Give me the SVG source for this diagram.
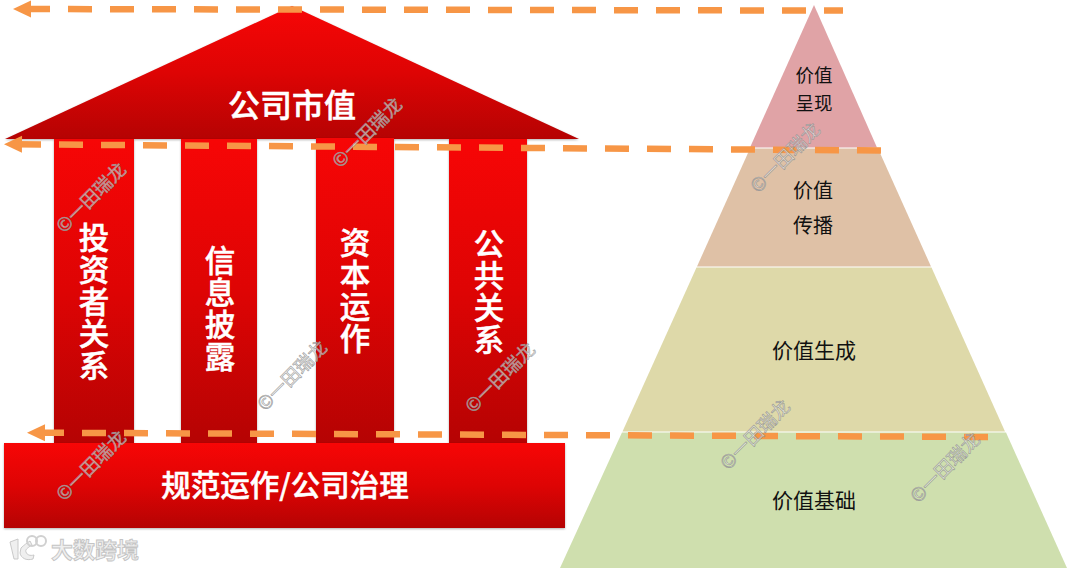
<svg xmlns="http://www.w3.org/2000/svg" width="1068" height="569" viewBox="0 0 1068 569">
<style>
text{font-family:"Noto Sans CJK SC","Liberation Sans",sans-serif;text-anchor:middle}
.w{fill:#fff;font-weight:500;stroke:#fff;stroke-width:.5}
.k{fill:#111}
.red{fill:url(#rg);filter:url(#sh)}
.dash{fill:none;stroke:#f79646;stroke-width:6.500;stroke-dasharray:24 18;marker-start:url(#ah)}
.wm{font-size:18.500px;fill:#fff;fill-opacity:.6;stroke:#8a8a8a;stroke-opacity:.8;stroke-width:.7;text-anchor:start}
.lg{fill:#efefef;stroke:#c4c4c4;stroke-width:.9}
</style>
<defs>
<linearGradient id="rg" x1="0" y1="0" x2="0" y2="1"><stop offset="0" stop-color="#f70606"/><stop offset=".5" stop-color="#de0404"/><stop offset="1" stop-color="#b50303"/></linearGradient>
<filter id="sh" x="-5%" y="-5%" width="110%" height="110%" color-interpolation-filters="sRGB"><feDropShadow dx="0" dy="1" stdDeviation="1" flood-color="#000" flood-opacity=".3"/></filter>
<marker id="ah" markerUnits="userSpaceOnUse" markerWidth="40" markerHeight="40" viewBox="-20 -20 40 40" refX="0" refY="0" orient="auto" overflow="visible"><path d="M-13 0L5-8.500V8.500Z" fill="#f79646"/></marker>
</defs>
<g id="roof"><path class="red" d="M292 6L579 139H5Z"/><text class="w" x="292" y="117" font-size="32">公司市值</text></g>
<g id="col1"><rect class="red" x="54" y="139" width="80" height="304"/><text class="w" font-size="30.500" x="94"><tspan x="94" y="249">投</tspan><tspan x="94" y="281">资</tspan><tspan x="94" y="313">者</tspan><tspan x="94" y="345">关</tspan><tspan x="94" y="377">系</tspan></text></g>
<g id="col2"><rect class="red" x="181" y="139" width="76" height="304"/><text class="w" font-size="30.500" x="220"><tspan x="220" y="272">信</tspan><tspan x="220" y="304">息</tspan><tspan x="220" y="336">披</tspan><tspan x="220" y="368">露</tspan></text></g>
<g id="col3"><rect class="red" x="316" y="138" width="78" height="305"/><text class="w" font-size="30.500" x="355"><tspan x="355" y="254">资</tspan><tspan x="355" y="286">本</tspan><tspan x="355" y="318">运</tspan><tspan x="355" y="350">作</tspan></text></g>
<g id="col4"><rect class="red" x="449" y="139" width="78" height="305"/><text class="w" font-size="30.500" x="489"><tspan x="489" y="255">公</tspan><tspan x="489" y="287">共</tspan><tspan x="489" y="319">关</tspan><tspan x="489" y="351">系</tspan></text></g>
<g id="base"><rect class="red" x="4" y="443" width="561" height="85"/><text class="w" x="285" y="496" font-size="29.500">规范运作/公司治理</text></g>
<g id="tier1"><path fill="#e0a3a6" d="M814 5L877 147.500H750Z"/><text class="k" font-size="18.500"><tspan x="814" y="82">价值</tspan><tspan x="814" y="110">呈现</tspan></text></g>
<g id="tier2"><path fill="#dfc1a6" d="M750 148.500H878L931 266.500H697Z"/><text class="k" font-size="20"><tspan x="813" y="198">价值</tspan><tspan x="813" y="233">传播</tspan></text></g>
<g id="tier3"><path fill="#ded9a9" d="M696.500 267.500H931.500L1005 431.500H622.500Z"/><text class="k" x="814" y="358" font-size="21">价值生成</text></g>
<g id="tier4"><path fill="#cfdfae" d="M622 432.500H1006L1067 568H560Z"/><text class="k" x="814" y="508" font-size="21">价值基础</text></g>
<g id="connectors">
<path class="dash" d="M26 9L843 10.600"/>
<path class="dash" d="M17 144.300L881 150.500"/>
<path class="dash" d="M40 432.700L988 437"/>
</g>
<g id="watermarks">
<text class="wm" transform="translate(64 234) rotate(-45)">©一田瑞龙</text>
<text class="wm" transform="translate(340 169) rotate(-45)">©一田瑞龙</text>
<text class="wm" transform="translate(265 412) rotate(-45)">©一田瑞龙</text>
<text class="wm" transform="translate(473 414) rotate(-45)">©一田瑞龙</text>
<text class="wm" transform="translate(64 502) rotate(-45)">©一田瑞龙</text>
<text class="wm" transform="translate(758 194) rotate(-45)">©一田瑞龙</text>
<text class="wm" transform="translate(728 471) rotate(-45)">©一田瑞龙</text>
<text class="wm" transform="translate(918 504) rotate(-45)">©一田瑞龙</text>
</g>
<g id="logo">
<path class="lg" d="M10 542L18 539V559H14ZM21 548C24 545 27 543 30 541L32 545C27 548 25 550 26 552C27 555 30 556 34 555L33 559C26 561 21 558 20 553Z"/>
<circle cx="32" cy="541" r="5" fill="none" stroke="#d0d0d0" stroke-width="2"/>
<circle cx="41" cy="541" r="5" fill="none" stroke="#d0d0d0" stroke-width="2"/>
<text class="lg" x="95" y="558" font-size="22" font-weight="700">大数跨境</text>
</g>
</svg>
